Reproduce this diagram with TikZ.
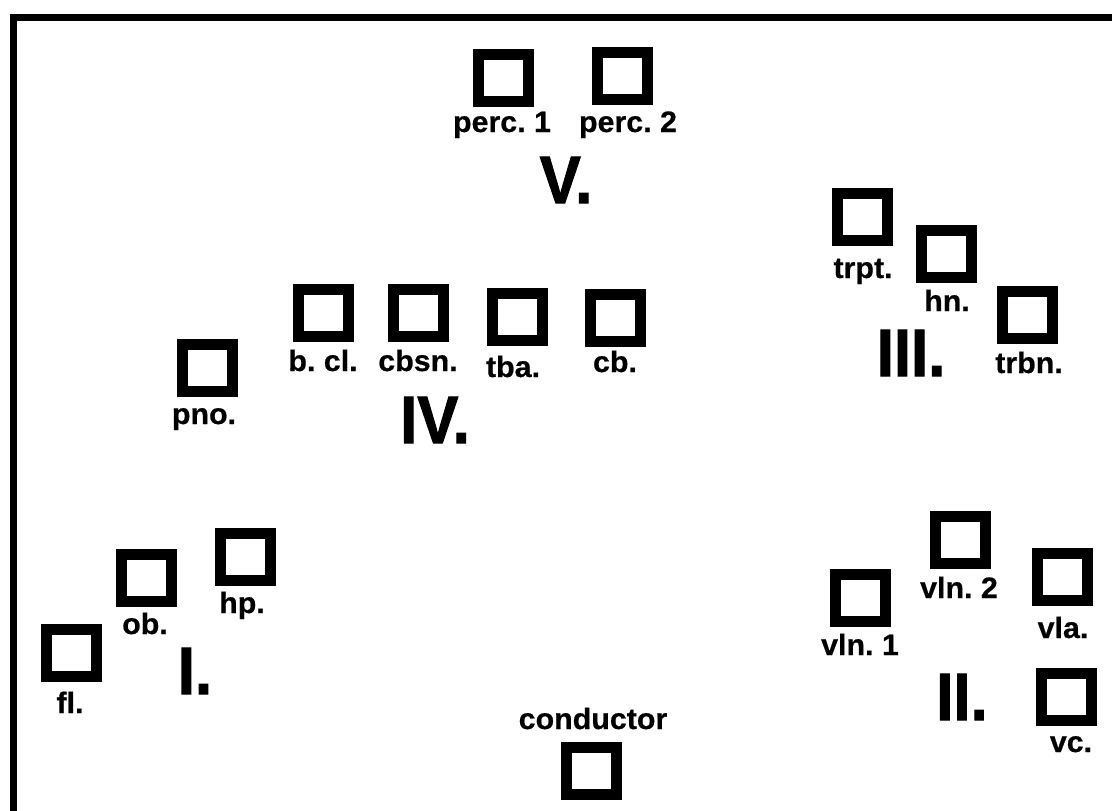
\documentclass[tikz,border=0pt]{standalone}
\usepackage{fontspec}
\setmainfont[FakeStretch=1.03,FakeBold=0.6]{Liberation Sans}
\newfontfamily\numfont[FakeStretch=0.92,FakeBold=1.5]{Liberation Sans}
\frenchspacing
\begin{document}
\begin{tikzpicture}[x=1pt,y=-1pt,
  instbox/.style={draw=black, line width=11pt, minimum width=50pt, minimum height=47pt, inner sep=0pt, outer sep=0pt},
  lbl/.style={anchor=base, inner sep=0pt, font=\fontsize{29.5}{31}\selectfont\bfseries},
  grp/.style={anchor=base, inner sep=0pt, font=\fontsize{67}{70}\selectfont\numfont\bfseries}]
\useasboundingbox (0,0) rectangle (1112,811);
% frame (top and left edges)
\fill[black] (10,14) rectangle (1112,21);
\fill[black] (10,14) rectangle (17,811);
% group V
\node[instbox] (perc1) at (503,77.5) {};
\node[instbox] (perc2) at (622,76) {};
\node[lbl] (lperc1) at (502,132) {perc.\ 1};
\node[lbl] (lperc2) at (628,132) {perc.\ 2};
\node[grp] (gV) at (566,203) {V.};
% group IV
\node[instbox] (pno) at (207,368) {};
\node[instbox] (bcl) at (323,313) {};
\node[instbox] (cbsn) at (418,313) {};
\node[instbox] (tba) at (517,317) {};
\node[instbox] (cb) at (615,318) {};
\node[lbl] (lpno) at (204,424) {pno.};
\node[lbl] (lbcl) at (323,371) {b.\ cl.};
\node[lbl] (lcbsn) at (418,371) {cbsn.};
\node[lbl] (ltba) at (513,377) {tba.};
\node[lbl] (lcb) at (615,372) {cb.};
\node[grp] (gIV) at (435,443) {IV.};
% group III
\node[instbox] (trpt) at (862,217) {};
\node[instbox] (hn) at (946,254) {};
\node[instbox] (trbn) at (1027,315) {};
\node[lbl] (ltrpt) at (863,278) {trpt.};
\node[lbl] (lhn) at (947,311) {hn.};
\node[lbl] (ltrbn) at (1029,373) {trbn.};
\node[grp] (gIII) at (911,376) {III.};
% group I
\node[instbox] (fl) at (71,653) {};
\node[instbox] (ob) at (146,578) {};
\node[instbox] (hp) at (245,557) {};
\node[lbl] (lfl) at (70,713) {fl.};
\node[lbl] (lob) at (145,634) {ob.};
\node[lbl] (lhp) at (242,613) {hp.};
\node[grp] (gI) at (195,694) {I.};
% group II
\node[instbox] (vln1) at (860,598) {};
\node[instbox] (vln2) at (960,540) {};
\node[instbox] (vla) at (1062,577) {};
\node[instbox] (vc) at (1066,697) {};
\node[lbl] (lvln1) at (860,655) {vln.\ 1};
\node[lbl] (lvln2) at (959,598) {vln.\ 2};
\node[lbl] (lvla) at (1063,638) {vla.};
\node[lbl] (lvc) at (1071,752) {vc.};
\node[grp] (gII) at (962,720) {II.};
% conductor
\node[instbox] (cond) at (591.5,770.5) {};
\node[lbl] (lcond) at (593,729) {conductor};
\end{tikzpicture}
\end{document}
